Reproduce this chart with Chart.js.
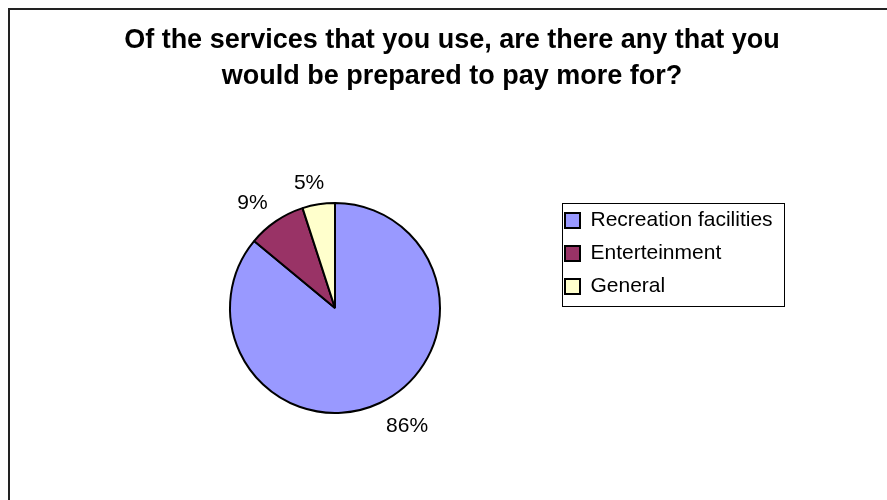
<!DOCTYPE html>
<html>
<head>
<meta charset="utf-8">
<script src="https://cdn.jsdelivr.net/npm/chart.js@4/dist/chart.umd.min.js"></script>
<style>
  html, body { margin: 0; padding: 0; background: #fff; }
  #wrap { width: 887px; height: 500px; }
</style>
</head>
<body>
<div id="wrap"><canvas id="chart1" width="887" height="500"></canvas></div>
<script>
const categories = ['Recreation facilities', 'Enterteinment', 'General'];
const shares = [86, 9, 5];
const sliceColors = ['#9999FF', '#993366', '#FFFFCC'];
const titleLines = ['Of the services that you use, are there any that you', 'would be prepared to pay more for?'];

const FONT = "'Liberation Sans', Arial, sans-serif";

// outer frame, only top and left edges fall inside the canvas
const framePlugin = {
    id: 'frame',
    beforeDraw(chart) {
        const ctx = chart.ctx;
        ctx.save();
        ctx.strokeStyle = '#222';
        ctx.lineWidth = 2;
        ctx.strokeRect(9, 9, chart.width + 20, chart.height + 20);
        ctx.restore();
    }
};

// place the legend and the title where they sit on the sheet
const placePlugin = {
    id: 'place',
    afterLayout(chart) {
        const lg = chart.legend;
        const w = lg.width, h = lg.height;
        lg.left = 553; lg.top = 198;
        lg.right = lg.left + w; lg.bottom = lg.top + h;
        const t = chart.titleBlock;
        t.left = 17; t.right = 887;
    },
    afterDraw(chart) {
        const ctx = chart.ctx;
        ctx.save();
        ctx.strokeStyle = '#000';
        ctx.lineWidth = 1;
        ctx.strokeRect(562.5, 203.5, 222, 103);
        ctx.restore();
    }
};

// percentage labels just outside each slice
const pctLabels = {
    id: 'pctLabels',
    afterDatasetsDraw(chart) {
        const ctx = chart.ctx;
        const meta = chart.getDatasetMeta(0);
        ctx.save();
        ctx.font = '21px ' + FONT;
        ctx.fillStyle = '#000';
        ctx.textAlign = 'center';
        ctx.textBaseline = 'alphabetic';
        const capH = 15;
        meta.data.forEach((arc, i) => {
            const mid = (arc.startAngle + arc.endAngle) / 2;
            const dx = Math.cos(mid), dy = Math.sin(mid);
            const r = arc.outerRadius + 15;
            const txt = shares[i] + '%';
            const w = ctx.measureText(txt).width;
            const clamp = v => Math.max(-1, Math.min(1, v));
            const cx = arc.x + dx * r + w / 2 * clamp(3 * dx);
            const cy = arc.y + dy * r + capH / 2 * clamp(3 * dy);
            ctx.fillText(txt, cx, cy + capH / 2);
        });
        ctx.restore();
    }
};

new Chart(document.getElementById('chart1').getContext('2d'), {
    type: 'pie',
    data: {
        labels: categories,
        datasets: [{
            data: shares,
            backgroundColor: sliceColors,
            borderColor: '#000',
            borderWidth: 2
        }]
    },
    options: {
        responsive: false,
        animation: false,
        events: [],
        radius: 105,
        layout: { padding: { left: 130, right: 347, top: 0, bottom: 4 } },
        plugins: {
            title: {
                display: true,
                text: titleLines,
                color: '#000',
                font: { family: FONT, size: 27, weight: 'bold', lineHeight: 1.352 },
                padding: { top: 22, bottom: 25 }
            },
            legend: {
                position: 'chartArea',
                align: 'start',
                labels: {
                    color: '#000',
                    font: { family: FONT, size: 21 },
                    boxWidth: 15,
                    boxHeight: 15,
                    padding: 12
                }
            },
            tooltip: { enabled: false }
        }
    },
    plugins: [framePlugin, placePlugin, pctLabels]
});
</script>
</body>
</html>
